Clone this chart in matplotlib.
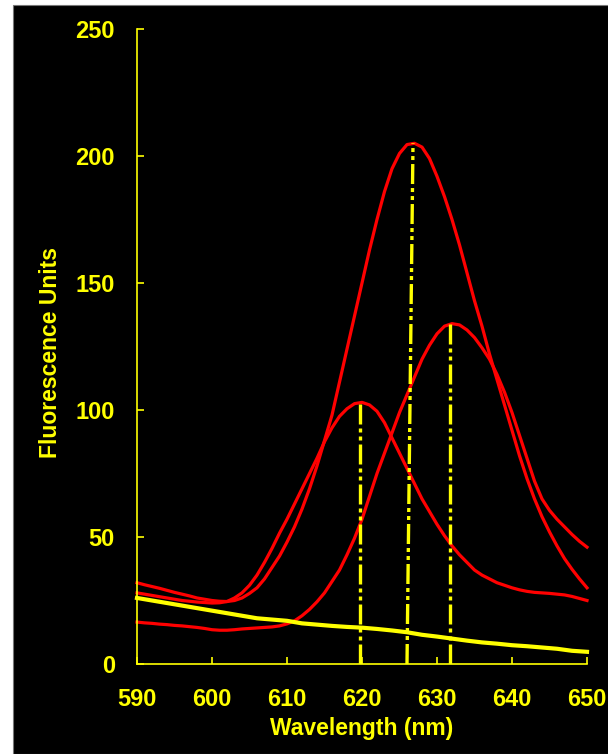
import numpy as np
import matplotlib
matplotlib.use("Agg")
import matplotlib.pyplot as plt
from matplotlib.patches import Rectangle

wl = list(range(590, 651))

peak620 = [28, 27.5, 27, 26.5, 26, 25.5, 25, 24.7, 24.4, 24.2,
           24, 24.1, 24.6, 26, 28, 31, 35, 40, 45.5, 51.5,
           57, 63, 69, 75, 81, 87.5, 93, 97.5, 100.5, 102.5,
           103, 102, 99.5, 95, 89, 83, 77, 71, 65, 60,
           55, 50.5, 46.5, 43, 40, 37, 35, 33.5, 32, 31,
           30, 29.2, 28.6, 28.2, 28, 27.8, 27.5, 27.2, 26.6, 25.8,
           25]

peak627 = [32, 31.2, 30.5, 29.8, 29, 28.2, 27.5, 26.8, 26, 25.5,
           25, 24.7, 24.6, 25, 26, 27.8, 30, 33.5, 38, 42.5,
           48, 54, 61, 69, 78, 88, 98, 111, 124, 137,
           150, 163, 175, 186, 195, 201, 204.5, 205, 203.5, 199,
           192, 184, 175, 165, 154, 143, 133, 122, 112, 102,
           92, 82, 73, 65, 58, 52, 46.5, 41.5, 37.3, 33.5,
           30]

peak632 = [16.5, 16.2, 16, 15.7, 15.5, 15.2, 15, 14.7, 14.4, 14,
           13.5, 13.3, 13.3, 13.5, 13.8, 14, 14.2, 14.4, 14.6, 15,
           15.8, 17, 19, 21.5, 24.5, 28, 32.5, 37, 43, 49.5,
           57, 66, 75, 83, 91, 99, 106, 113, 120, 125.5,
           130, 133, 134, 133.5, 131.5, 128.5, 124.5, 120, 114, 107,
           99, 90, 81, 72, 65, 60.5, 57, 54, 51, 48.3,
           46]

# yellow background trace, 2 nm steps
wl_base = list(range(590, 651, 2))
baseline = [26, 25, 24, 23, 22, 21, 20, 19, 18, 17.5, 17, 16, 15.5, 15,
            14.6, 14.3, 13.8, 13.2, 12.5, 11.5, 10.8, 10, 9.2, 8.5, 8, 7.4, 7, 6.5,
            6, 5.2, 4.8]

# peak markers: wavelength at bottom, wavelength at top, height
markers_x0 = [619.7, 626.0, 631.7]
markers_x1 = [619.7, 626.8, 631.7]
markers_h = [103, 205, 134]

xticks = [590, 600, 610, 620, 630, 640, 650]
yticks = [0, 50, 100, 150, 200, 250]

YEL = "#ffff00"
RED = "#ff0000"

fig = plt.figure(figsize=(6.08, 7.54), dpi=100, facecolor="white")
bg = Rectangle((13 / 608, 0), 1, (754 - 5) / 754,
               transform=fig.transFigure, facecolor="black",
               edgecolor="#777777", linewidth=0.8, zorder=-10)
fig.add_artist(bg)

ax = fig.add_axes([137 / 608, (754 - 664) / 754, 450 / 608, 635 / 754])
ax.set_zorder(5)
ax.set_facecolor("black")

for y in [peak620, peak627, peak632]:
    ax.plot(wl, y, color=RED, lw=2.3, clip_on=False)
ax.plot(wl_base, baseline, color=YEL, lw=3.0, clip_on=False)

for x0, x1, h in zip(markers_x0, markers_x1, markers_h):
    ax.plot([x0, x1], [0, h], color=YEL, lw=2.4,
            linestyle=(0, (6, 1.2, 1.2, 1.2, 1.2, 1.2)))

ax.set_xlim(590, 650)
ax.set_ylim(0, 250)
ax.set_xticks(xticks)
ax.set_yticks(yticks)

for s in ["top", "right"]:
    ax.spines[s].set_visible(False)
for s in ["left", "bottom"]:
    ax.spines[s].set_color(YEL)
    ax.spines[s].set_linewidth(1.2)

ax.tick_params(direction="in", length=5, width=1.2, color=YEL,
               labelcolor=YEL)
ax.tick_params(axis="x", pad=17)
ax.tick_params(axis="y", pad=16)

for lab in ax.get_xticklabels():
    lab.set_fontfamily(["Liberation Sans", "DejaVu Sans"])
    lab.set_fontweight("bold")
    lab.set_fontsize(17)
for lab in ax.get_yticklabels():
    lab.set_fontfamily(["Liberation Sans Narrow", "Liberation Sans", "DejaVu Sans"])
    lab.set_fontweight("bold")
    lab.set_fontsize(17)

ax.set_xlabel("Wavelength (nm)", color=YEL, fontsize=16.5, fontweight="bold",
              family=["Liberation Sans", "DejaVu Sans"])
ax.set_ylabel("Fluorescence Units", color=YEL, fontsize=16.5, fontweight="bold",
              family=["Liberation Sans", "DejaVu Sans"])
ax.xaxis.set_label_coords(0.5, -0.084)
ax.yaxis.set_label_coords(-0.166, 0.49)

fig.savefig("out.png", dpi=100, facecolor=fig.get_facecolor())
